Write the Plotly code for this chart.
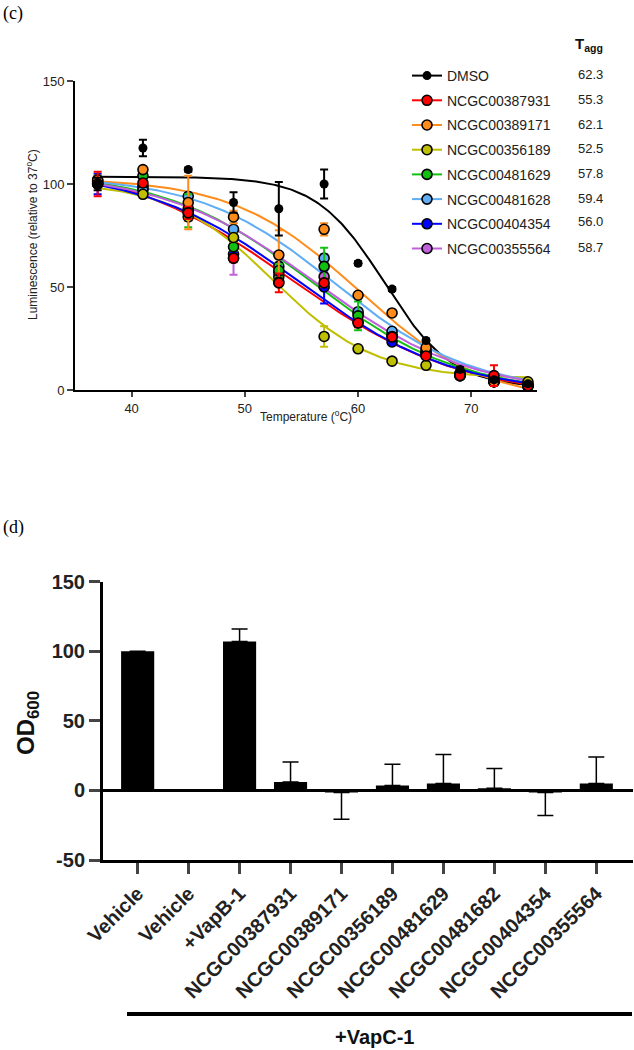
import numpy as np
import plotly.graph_objects as go

W, H = 634, 1050
OFF = 0  # body margin is removed in the page, so paper == window pixels

# ---------------- Panel (c) data ----------------
temperatures = [37, 41, 45, 49, 53, 57, 60, 63, 66, 69, 72, 75]

series_names = ["DMSO", "NCGC00387931", "NCGC00389171", "NCGC00356189",
                "NCGC00481629", "NCGC00481628", "NCGC00404354", "NCGC00355564"]
tagg_values = ["62.3", "55.3", "62.1", "52.5", "57.8", "59.4", "56.0", "58.7"]
series_colors = ["#000000", "#FF0000", "#FF8C1A", "#BFBF00",
                 "#12C012", "#5FAEF5", "#0000FF", "#C060DC"]

dmso_mean = [100, 117.5, 107, 91, 88, 100, 61.5, 49, 24, 10, 5, 3]
dmso_err = [3, 4, 1, 5, 13, 7, 1, 1, 1, 1, 1, 1]
c387931_mean = [100, 100.5, 86, 64, 52, 52, 32.5, 25.7, 16.5, 7, 7, 2]
c387931_err = [6, 1, 3, 2, 4.5, 2, 2, 1, 1, 1, 5, 1]
c389171_mean = [102, 107, 91, 84, 65.5, 78, 46, 37.4, 20.5, 8, 4, 2]
c389171_err = [2, 1, 13, 3, 12, 3, 1, 1, 1, 1, 1, 1]
c356189_mean = [100, 95, 84, 74, 52.5, 26, 20, 14, 12, 8, 5, 4]
c356189_err = [1, 1, 2, 2, 2, 5, 1, 1, 1, 1, 1, 1]
c481629_mean = [102, 104, 87, 69.5, 58, 60, 36, 26, 18, 8, 5, 2]
c481629_err = [2, 1, 8, 2, 3, 9, 7, 1, 1, 1, 1, 1]
c481628_mean = [101, 97, 94, 78, 60, 64, 38, 28.5, 19, 7, 4, 3]
c481628_err = [2, 1, 2, 3, 2, 2, 1, 1, 1, 1, 1, 1]
c404354_mean = [100, 98, 86, 66, 57, 50, 33, 23.3, 17, 7, 4, 2]
c404354_err = [5, 1, 2, 2, 2, 8, 1, 1, 1, 1, 1, 1]
c355564_mean = [101, 99, 88, 64, 55, 55, 37, 27, 18, 7, 4, 2]
c355564_err = [2, 1, 6, 8, 2, 2, 1, 1, 1, 1, 1, 1]

series_means = [dmso_mean, c387931_mean, c389171_mean, c356189_mean,
                c481629_mean, c481628_mean, c404354_mean, c355564_mean]
series_errs = [dmso_err, c387931_err, c389171_err, c356189_err,
               c481629_err, c481628_err, c404354_err, c355564_err]

# Boltzmann sigmoid fit parameters (as drawn)
fit_top = [103.5, 112, 103, 101, 106, 104, 107, 106]
fit_bottom = [1, -4, -6, 5.5, -2, -1, -2, -2]
fit_mid = [62.3, 54.0, 60.0, 52.5, 56.0, 58.0, 54.8, 56.3]
fit_slope = [3.0, 7.5, 5.5, 4.5, 6.5, 6.0, 6.8, 6.8]

# ---------------- Panel (d) data ----------------
bar_labels = ["Vehicle", "Vehicle", "+VapB-1", "NCGC00387931", "NCGC00389171",
              "NCGC00356189", "NCGC00481629", "NCGC00481682", "NCGC00404354",
              "NCGC00355564"]
bar_values = [100, 0, 107, 6, -1.5, 3.6, 5, 1.5, -1.5, 5]
bar_err_plus = [0, 0, 9, 14.5, 0, 15.2, 20.8, 14.2, 0, 19]
bar_err_minus = [0, 0, 0, 0, 19.2, 0, 0, 0, 16.6, 0]


def px(x):
    return (x - OFF) / W


def py(y):
    return 1 - (y - OFF) / H


FONT = "Arial, Liberation Sans, sans-serif"
SERIF = "Times New Roman, Liberation Serif, serif"

fig = go.Figure()

# fitted curves
t_fine = np.linspace(37, 75, 300)
for i in range(len(series_names)):
    yfit = fit_bottom[i] + (fit_top[i] - fit_bottom[i]) / (
        1 + np.exp((t_fine - fit_mid[i]) / fit_slope[i]))
    fig.add_trace(go.Scatter(x=t_fine, y=yfit, mode="lines",
                             line=dict(color=series_colors[i], width=2),
                             showlegend=False, hoverinfo="skip",
                             xaxis="x", yaxis="y"))

# data points with error bars
draw_order = [7, 6, 5, 4, 3, 2, 1, 0]
for i in draw_order:
    is_dmso = (i == 0)
    fig.add_trace(go.Scatter(
        x=temperatures, y=series_means[i], mode="markers",
        marker=dict(color=series_colors[i], size=9 if is_dmso else 10,
                    line=dict(color="black", width=0 if is_dmso else 1.6)),
        error_y=dict(type="data", array=series_errs[i], visible=True,
                     color=series_colors[i], thickness=2, width=4),
        showlegend=False, cliponaxis=False, xaxis="x", yaxis="y"))

# legend entries
for i in range(len(series_names)):
    is_dmso = (i == 0)
    fig.add_trace(go.Scatter(
        x=[None], y=[None], mode="lines+markers", name=series_names[i],
        legendgroup="g%d" % i,
        line=dict(color=series_colors[i], width=2),
        marker=dict(color=series_colors[i], size=9 if is_dmso else 10,
                    line=dict(color="black", width=0 if is_dmso else 1.6)),
        xaxis="x", yaxis="y"))

# bars
xs = list(range(len(bar_labels)))
fig.add_trace(go.Bar(
    x=xs, y=bar_values, width=0.65, marker=dict(color="black", line=dict(width=0)),
    error_y=dict(type="data", symmetric=False, array=bar_err_plus,
                 arrayminus=bar_err_minus, color="black", thickness=1.5, width=8),
    showlegend=False, xaxis="x2", yaxis="y2"))

fig.update_layout(
    width=W, height=H, autosize=False,
    margin=dict(l=0, r=0, t=0, b=0, pad=0),
    paper_bgcolor="white", plot_bgcolor="white",
    font=dict(family=FONT, color="#222222"),
    showlegend=True,
    legend=dict(x=px(407), y=py(60), xanchor="left", yanchor="top",
                font=dict(family=FONT, size=14, color="#222222"),
                tracegroupgap=3.5, bgcolor="rgba(0,0,0,0)", borderwidth=0,
                traceorder="grouped"),
    xaxis=dict(domain=[px(75), px(537)], range=[35, 75.8], anchor="y",
               automargin=False,
               tickvals=[40, 50, 60, 70], ticks="outside", ticklen=5, tickwidth=2,
               showline=True, linewidth=2, linecolor="black", showgrid=False,
               zeroline=False, tickfont=dict(size=13, color="#222222")),
    yaxis=dict(domain=[py(390), py(81)], range=[0, 150], anchor="x",
               automargin=False,
               tickvals=[0, 50, 100, 150], ticks="outside", ticklen=6, tickwidth=2,
               showline=True, linewidth=2, linecolor="black", showgrid=False,
               zeroline=False, tickfont=dict(size=13, color="#222222")),
    xaxis2=dict(domain=[px(103), px(633)], range=[-0.68, 9.72], anchor="y2",
                automargin=False,
                tickvals=xs, ticktext=bar_labels, tickangle=-45,
                ticks="outside", ticklen=11, tickwidth=3,
                showline=True, linewidth=3, linecolor="black", showgrid=False,
                zeroline=False,
                tickfont=dict(size=20, color="#222222", weight="bold")),
    yaxis2=dict(domain=[py(860), py(581.7)], range=[-50, 150], anchor="x2",
                automargin=False,
                tickvals=[-50, 0, 50, 100, 150],
                ticktext=["-50", "0", "50", "100", "150"],
                ticks="outside", ticklen=11, tickwidth=3,
                showline=True, linewidth=3, linecolor="black", showgrid=False,
                zeroline=True, zerolinewidth=3, zerolinecolor="black",
                tickfont=dict(size=20, color="#222222", weight="bold")),
    bargap=0.35,
)

annotations = [
    dict(text="(c)", x=px(1), y=py(13), xanchor="left", yanchor="middle",
         font=dict(family=SERIF, size=18, color="black")),
    dict(text="(d)", x=px(1), y=py(527), xanchor="left", yanchor="middle",
         font=dict(family=SERIF, size=18, color="black")),
    dict(text="Luminescence (relative to 37<sup>o</sup>C)", x=px(32), y=py(235),
         textangle=-90, xanchor="center", yanchor="middle",
         font=dict(size=12, color="#222222")),
    dict(text="Temperature (<sup>o</sup>C)", x=px(306), y=py(416),
         xanchor="center", yanchor="middle", font=dict(size=12, color="#222222")),
    dict(text="<b>T<sub>agg</sub></b>", x=px(605), y=py(45), xanchor="right",
         yanchor="middle", font=dict(size=15, color="#111111")),
    dict(text="<b>OD<sub>600</sub></b>", x=px(27), y=py(723), textangle=-90,
         xanchor="center", yanchor="middle", font=dict(size=24, color="#111111")),
    dict(text="<b>+VapC-1</b>", x=px(374), y=py(1037), xanchor="center",
         yanchor="middle", font=dict(size=20, color="#111111")),
]
row_y = [74, 99, 124, 148, 173, 198, 222, 247]
for i, v in enumerate(tagg_values):
    annotations.append(dict(text=v, x=px(605), y=py(row_y[i]), xanchor="right",
                            yanchor="middle", font=dict(size=13, color="#222222")))
for a in annotations:
    a.update(xref="paper", yref="paper", showarrow=False)
fig.update_layout(annotations=annotations)

fig.add_shape(type="line", xref="paper", yref="paper",
              x0=px(127), x1=px(632), y0=py(1014), y1=py(1014),
              line=dict(color="black", width=4))

fig.write_html("out.html",
               config={"displayModeBar": False},
               post_script="document.body.style.margin='0px';"
                           "document.body.style.overflow='hidden';")
